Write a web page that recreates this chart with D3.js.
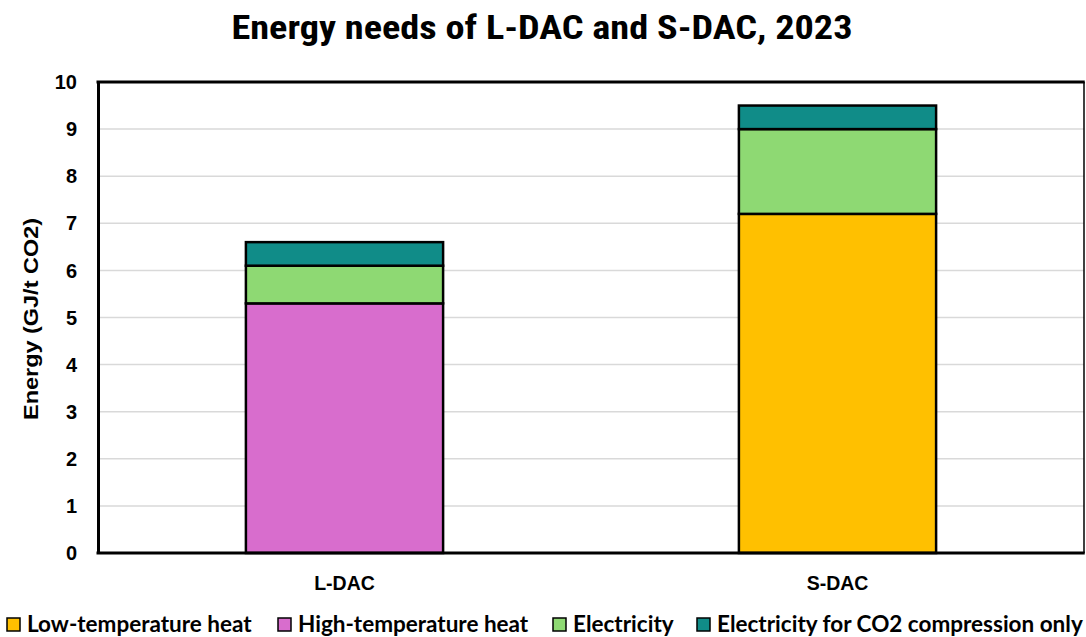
<!DOCTYPE html>
<html>
<head>
<meta charset="utf-8">
<script src="https://cdn.jsdelivr.net/npm/d3@7"></script>
<style>
  html, body { margin: 0; padding: 0; background: #fff; }
  svg { display: block; }
</style>
</head>
<body>
<svg id="chart" width="1086" height="637"></svg>
<script>
const categories = ["L-DAC", "S-DAC"];
const seriesNames = ["Low-temperature heat", "High-temperature heat", "Electricity", "Electricity for CO2 compression only"];
const lowTempHeat = [0, 7.2];
const highTempHeat = [5.3, 0];
const electricity = [0.8, 1.8];
const co2Compression = [0.5, 0.5];
const yTicks = [0, 1, 2, 3, 4, 5, 6, 7, 8, 9, 10];
const colors = ["#FFC000", "#D86DCD", "#8ED973", "#108C88"];
const title = "Energy needs of L-DAC and S-DAC, 2023";
const yTitle = "Energy (GJ/t CO2)";

const svg = d3.select("#chart");
const W = 1086, H = 637;
const m = { left: 98, right: 2, top: 82, bottom: 84 };
const pw = W - m.left - m.right, ph = H - m.top - m.bottom;

const table = categories.map((c, i) => ({
  cat: c,
  "Low-temperature heat": lowTempHeat[i],
  "High-temperature heat": highTempHeat[i],
  "Electricity": electricity[i],
  "Electricity for CO2 compression only": co2Compression[i]
}));
const stacked = d3.stack().keys(seriesNames)(table);

const x = d3.scaleBand().domain(categories).range([m.left, m.left + pw]).paddingInner(0.6).paddingOuter(0.3);
const y = d3.scaleLinear().domain([0, 10]).range([m.top + ph, m.top]);
const color = d3.scaleOrdinal().domain(seriesNames).range(colors);

const labelFont = "'Liberation Sans', Arial, sans-serif";

// title
svg.append("text")
  .attr("x", 542).attr("y", 39)
  .attr("text-anchor", "middle")
  .attr("font-family", "'Liberation Sans Narrow', 'Roboto Condensed', 'Arial Narrow', sans-serif")
  .attr("font-weight", "bold")
  .attr("font-size", 34)
  .attr("textLength", 621)
  .attr("lengthAdjust", "spacingAndGlyphs")
  .attr("fill", "#000")
  .text(title);

// gridlines
svg.append("g")
  .selectAll("line")
  .data(yTicks.filter(t => t > 0 && t < 10))
  .join("line")
  .attr("x1", m.left).attr("x2", m.left + pw)
  .attr("y1", d => y(d)).attr("y2", d => y(d))
  .attr("stroke", "#d9d9d9").attr("stroke-width", 1.5);

// bars
svg.append("g")
  .selectAll("g")
  .data(stacked)
  .join("g")
  .attr("fill", d => color(d.key))
  .selectAll("rect")
  .data(d => d.filter(s => s[1] - s[0] > 0))
  .join("rect")
  .attr("x", d => x(d.data.cat))
  .attr("width", x.bandwidth())
  .attr("y", d => y(d[1]))
  .attr("height", d => y(d[0]) - y(d[1]))
  .attr("stroke", "#000")
  .attr("stroke-width", 2.5);

// frame
svg.append("line").attr("x1", m.left + pw).attr("x2", m.left + pw).attr("y1", m.top).attr("y2", m.top + ph)
  .attr("stroke", "#000").attr("stroke-width", 1.5);
svg.append("line").attr("x1", m.left - 1.5).attr("x2", m.left + pw + 0.75).attr("y1", m.top).attr("y2", m.top)
  .attr("stroke", "#000").attr("stroke-width", 3);

// y axis
const yAxis = svg.append("g")
  .attr("transform", `translate(${m.left},0)`)
  .call(d3.axisLeft(y).tickValues(yTicks).tickSize(0).tickPadding(21).tickFormat(d3.format("d")));
yAxis.select(".domain").attr("stroke", "#000").attr("stroke-width", 3);
yAxis.selectAll("text")
  .attr("font-family", labelFont).attr("font-weight", "bold").attr("font-size", 20).attr("fill", "#000")
  .attr("dy", "0.33em");

// x axis
const xAxis = svg.append("g")
  .attr("transform", `translate(0,${m.top + ph})`)
  .call(d3.axisBottom(x).tickSize(0).tickPadding(23));
xAxis.select(".domain").attr("stroke", "#000").attr("stroke-width", 3)
  .attr("d", `M${m.left - 1.5},0H${m.left + pw + 0.75}`);
xAxis.selectAll("text")
  .attr("font-family", labelFont).attr("font-weight", "bold").attr("font-size", 19.5).attr("fill", "#000");

// y title
svg.append("text")
  .attr("transform", `translate(38,${319}) rotate(-90)`)
  .attr("text-anchor", "middle")
  .attr("font-family", labelFont).attr("font-weight", "bold").attr("font-size", 21).attr("fill", "#000")
  .attr("textLength", 202)
  .attr("lengthAdjust", "spacingAndGlyphs")
  .text(yTitle);

// legend
const legendX = [6, 277, 552, 696];
const lg = svg.append("g").selectAll("g").data(seriesNames).join("g")
  .attr("transform", (d, i) => `translate(${legendX[i]},618)`);
lg.append("rect").attr("x", 1).attr("y", 0).attr("width", 13).attr("height", 13)
  .attr("fill", d => color(d)).attr("stroke", "#000").attr("stroke-width", 1.5);
lg.append("text").attr("x", 21).attr("y", 14)
  .attr("font-family", "Lato, 'Open Sans', sans-serif").attr("font-weight", "bold").attr("font-size", 22.5).attr("fill", "#000")
  .text(d => d);
</script>
</body>
</html>
